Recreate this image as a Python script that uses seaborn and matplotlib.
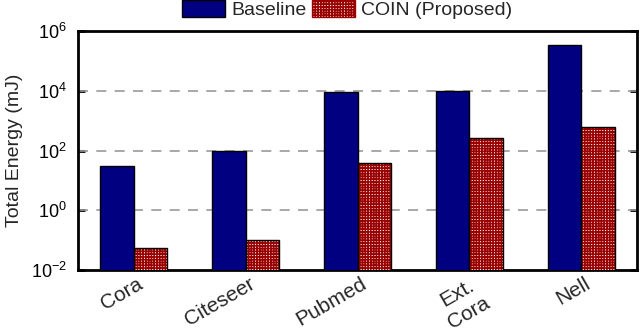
import matplotlib
matplotlib.use("Agg")
import matplotlib.pyplot as plt
import matplotlib.transforms as mtransforms
from matplotlib.patches import Patch, Rectangle
import seaborn as sns
import pandas as pd

datasets = ["Cora", "Citeseer", "Pubmed", "Ext.\nCora", "Nell"]
baseline = [30, 100, 9000, 10000, 340000]
coin = [0.054, 0.1, 38, 257, 600]
methods = ["Baseline", "COIN (Proposed)"]
yticks = [1e-2, 1e0, 1e2, 1e4, 1e6]
ytick_labels = ["$10^{-2}$", "$10^{0}$", "$10^{2}$", "$10^{4}$", "$10^{6}$"]

NAVY = "#000080"
RED = "#990000"

sns.set_theme(style="white")
plt.rcParams["font.family"] = ["Liberation Sans", "DejaVu Sans"]
plt.rcParams["mathtext.fontset"] = "custom"
plt.rcParams["mathtext.rm"] = "Liberation Sans"
plt.rcParams["mathtext.it"] = "Liberation Sans:italic"
plt.rcParams["hatch.linewidth"] = 1.2

df = pd.DataFrame({
    "dataset": datasets * 2,
    "energy": baseline + coin,
    "method": [methods[0]] * len(datasets) + [methods[1]] * len(datasets),
})

fig = plt.figure(figsize=(6.4, 3.33), dpi=100)
ax = fig.add_axes([78 / 640, 1 - 270 / 333, (637 - 78) / 640, (270 - 31) / 333])

sns.barplot(data=df, x="dataset", y="energy", hue="method", order=datasets,
            hue_order=methods, palette=[NAVY, "white"], saturation=1,
            width=0.6, edgecolor="black", linewidth=1, ax=ax, legend=False,
            zorder=3)

ax.set_yscale("log")
ax.set_ylim(1e-2, 1e6)
ax.set_xlim(-0.5, len(datasets) - 0.5)

# style COIN bars with hatch
n = len(datasets)
bars = [p for p in ax.patches if isinstance(p, Rectangle)]
coin_bars = bars[n:2 * n]
for p in coin_bars:
    p.set_facecolor("white")
    p.set_edgecolor(RED)
    p.set_hatch("++++++")
    p.set_linewidth(0)
    outline = Rectangle(p.get_xy(), p.get_width(), p.get_height(),
                        fill=False, edgecolor="black", linewidth=1, zorder=4)
    ax.add_patch(outline)

ax.set_yticks(yticks)
ax.set_yticklabels(ytick_labels)
ax.minorticks_off()
ax.yaxis.set_minor_locator(matplotlib.ticker.NullLocator())
for y in yticks[1:-1]:
    ax.axhline(y, color="#999999", linestyle=(0, (6, 5)), linewidth=1.2, zorder=1)

ax.tick_params(axis="y", which="major", direction="in", length=5, width=2,
               right=True, left=True, labelsize=13, pad=8, colors="black")
ax.tick_params(axis="x", length=0, labelsize=15, pad=3)
for spine in ax.spines.values():
    spine.set_visible(True)
    spine.set_color("black")
    spine.set_linewidth(2)

offset = mtransforms.ScaledTranslation(3 / 100, 0, fig.dpi_scale_trans)
for lab in ax.get_xticklabels():
    lab.set_rotation(30)
    lab.set_ha("right")
    lab.set_va("top")
    lab.set_rotation_mode("anchor")
    lab.set_multialignment("center")
    lab.set_linespacing(1.25)
    lab.set_transform(lab.get_transform() + offset)

ax.set_xlabel("")
ax.set_ylabel("Total Energy (mJ)", fontsize=14, labelpad=6)

handles = [
    Patch(facecolor=NAVY, edgecolor="black", linewidth=1, label=methods[0]),
    Patch(facecolor="white", edgecolor=RED, hatch="++++++", linewidth=1, label=methods[1]),
]
fig.legend(handles=handles, loc="upper center", bbox_to_anchor=(347 / 640, 1.0),
           ncol=2, frameon=False, fontsize=14, handlelength=2.2, handleheight=1.0,
           handletextpad=0.3, columnspacing=0.3, borderpad=0, borderaxespad=0)

fig.savefig("out.png", dpi=100)
